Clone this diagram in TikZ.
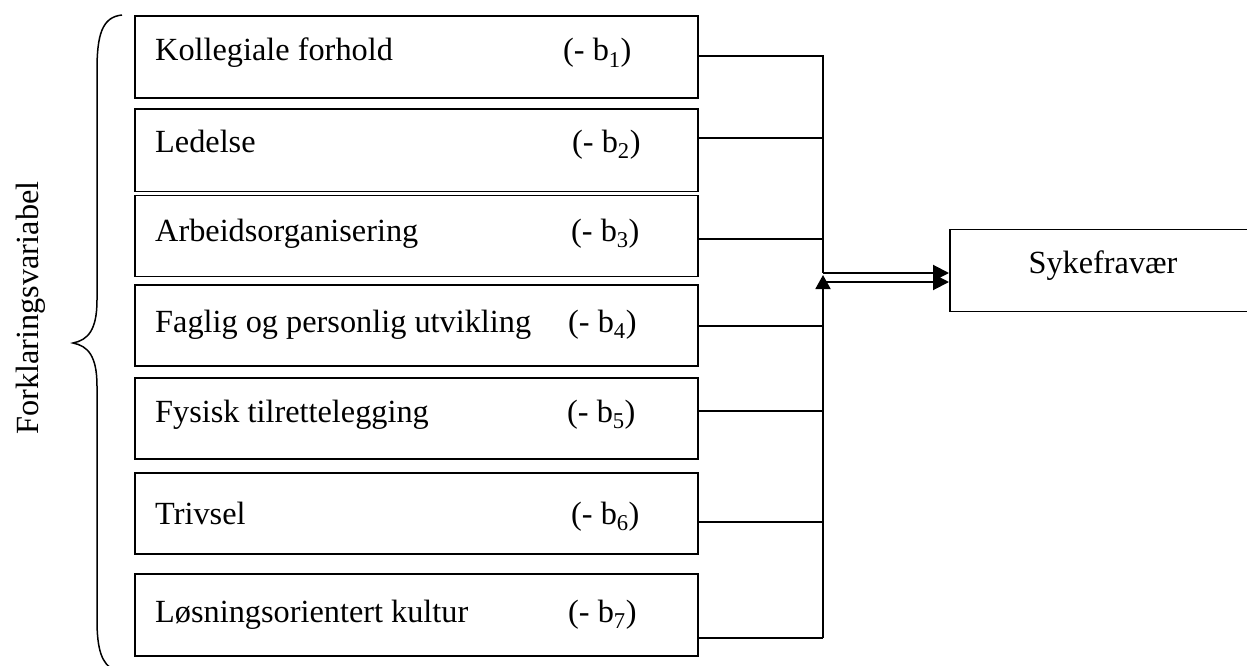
\documentclass[tikz,border=0pt]{standalone}
\usepackage{fontspec}
\setmainfont{Liberation Serif}
\usetikzlibrary{arrows.meta}
\begin{document}
\begin{tikzpicture}[x=1pt,y=-1pt,
  vbox/.style={draw,line width=1.8pt,minimum width=563pt,inner sep=0pt,anchor=north west},
  txt/.style={anchor=base west,inner sep=0pt,font=\fontsize{32.3}{38}\selectfont},
  conn/.style={line width=1.5pt},
  arr/.style={line width=2pt,-{Triangle[length=16pt,width=16pt]}}]
\useasboundingbox (0,0) rectangle (1247,666);
\clip (0,0) rectangle (1247,666);
% boxes
\node[vbox,minimum height=82pt] (b1) at (134,15.5) {};
\node[vbox,minimum height=82pt] (b2) at (134,108.5) {};
\node[vbox,minimum height=81pt] (b3) at (134,194.5) {};
\node[vbox,minimum height=81pt] (b4) at (134,284) {};
\node[vbox,minimum height=81pt] (b5) at (134,377) {};
\node[vbox,minimum height=81pt] (b6) at (134,472) {};
\node[vbox,minimum height=82pt] (b7) at (134,573) {};
\node[draw,line width=1.8pt,minimum width=340pt,minimum height=82pt,inner sep=0pt,anchor=north west] (sf) at (949,228.5) {};
% labels
\node[txt] (t1) at (155,61) {Kollegiale forhold};
\node[txt] (t2) at (155,152) {Ledelse};
\node[txt] (t3) at (155,241) {Arbeidsorganisering};
\node[txt] (t4) at (155,332) {Faglig og personlig utvikling};
\node[txt] (t5) at (155,422) {Fysisk tilrettelegging};
\node[txt] (t6) at (155,524) {Trivsel};
\node[txt] (t7) at (155,622) {Løsningsorientert kultur};
\node[txt] (c1) at (563,61) {(- b\textsubscript{1})};
\node[txt] (c2) at (572,152) {(- b\textsubscript{2})};
\node[txt] (c3) at (571,241) {(- b\textsubscript{3})};
\node[txt] (c4) at (568,332) {(- b\textsubscript{4})};
\node[txt] (c5) at (567,422) {(- b\textsubscript{5})};
\node[txt] (c6) at (571,524) {(- b\textsubscript{6})};
\node[txt] (c7) at (568,622) {(- b\textsubscript{7})};
\node[txt,anchor=base] (sft) at (1103,273) {Sykefravær};
\node[txt,anchor=base,rotate=90] (fv) at (38,308) {Forklaringsvariabel};
% connectors
\coordinate (vx1) at (823,56);
\coordinate (top) at (823,273);
\coordinate (bot) at (823,638);
\coordinate (low) at (823,282);
\coordinate (up) at (823,275);
\draw[conn] (b1.east |- vx1) -- (vx1) -- (top);
\draw[conn] (b2.east |- 0,138) -- (823,138);
\draw[conn] (b3.east |- 0,239) -- (823,239);
\draw[conn] (b4.east |- 0,326) -- (823,326);
\draw[conn] (b5.east |- 0,411) -- (823,411);
\draw[conn] (b6.east |- 0,522) -- (823,522);
\draw[conn] (b7.east |- bot) -- (bot);
\draw[line width=1.8pt,-{Triangle[length=14pt,width=15pt]}] (bot) -- (up);
\draw[arr] (top) -- (sf.west |- top);
\draw[arr] (low) -- (sf.west |- low);
% brace
\draw[line width=1.5pt] (122,15) .. controls (102,17) and (97,35) .. (97,70)
  -- (97,300) .. controls (97,330) and (88,340) .. (73,343)
  .. controls (88,346) and (97,356) .. (97,386)
  -- (97,620) .. controls (97,650) and (102,664) .. (114,670);
\end{tikzpicture}
\end{document}
